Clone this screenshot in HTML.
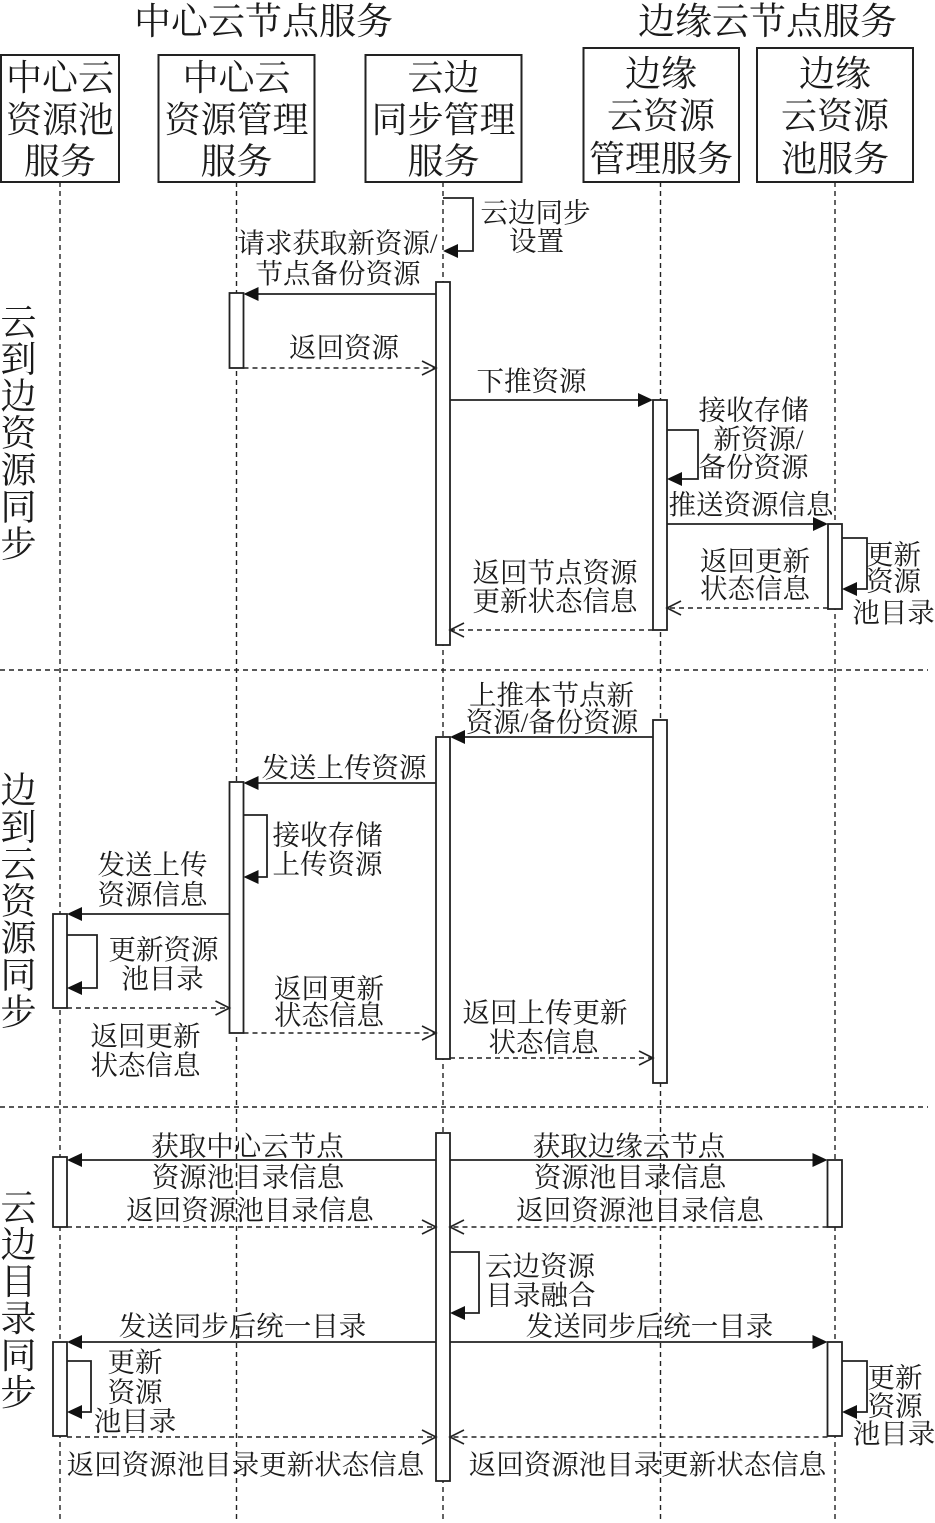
<!DOCTYPE html>
<html>
<head>
<meta charset="utf-8">
<style>
html,body{margin:0;padding:0;background:#fff;}
svg{display:block;}
text{font-family:"Liberation Serif","Noto Serif CJK SC",serif;fill:#1a1a1a;}
.t{font-size:27.5px;text-anchor:middle;}
.b{font-size:36px;text-anchor:middle;}
.h{font-size:37px;text-anchor:middle;}
.v{font-size:36px;text-anchor:middle;}
.ll{stroke:#222;stroke-width:1.4;stroke-dasharray:5 4;fill:none;}
.dv{stroke:#222;stroke-width:1.4;stroke-dasharray:5 4;fill:none;}
.box{fill:#fff;stroke:#222;stroke-width:2;}
.act{fill:#fff;stroke:#222;stroke-width:1.8;}
.sl{stroke:#222;stroke-width:1.8;fill:none;}
.ds{stroke:#222;stroke-width:1.4;stroke-dasharray:5 4;fill:none;}
.ah{fill:#111;stroke:none;}
.oa{stroke:#222;stroke-width:1.6;fill:none;}
</style>
</head>
<body>
<svg width="935" height="1523" viewBox="0 0 935 1523" xmlns="http://www.w3.org/2000/svg">
<rect x="0" y="0" width="935" height="1523" fill="#fff"/>

<!-- titles -->
<text class="h" x="263.5" y="34">中心云节点服务</text>
<text class="h" x="767.5" y="34">边缘云节点服务</text>

<!-- lifelines -->
<line class="ll" x1="60" y1="182" x2="60" y2="1523"/>
<line class="ll" x1="236.5" y1="182" x2="236.5" y2="1523"/>
<line class="ll" x1="443" y1="182" x2="443" y2="1523"/>
<line class="ll" x1="660.5" y1="182" x2="660.5" y2="1523"/>
<line class="ll" x1="835" y1="182" x2="835" y2="1523"/>

<!-- boxes -->
<rect class="box" x="1" y="55" width="118" height="127"/>
<text class="b" x="60" y="90">中心云</text>
<text class="b" x="60" y="132">资源池</text>
<text class="b" x="60" y="173.5">服务</text>

<rect class="box" x="158.5" y="55" width="156" height="127"/>
<text class="b" x="236.5" y="90">中心云</text>
<text class="b" x="236.5" y="132">资源管理</text>
<text class="b" x="236.5" y="173.5">服务</text>

<rect class="box" x="365.5" y="55" width="156" height="127"/>
<text class="b" x="443.5" y="90">云边</text>
<text class="b" x="443.5" y="132">同步管理</text>
<text class="b" x="443.5" y="173.5">服务</text>

<rect class="box" x="583.5" y="48" width="155.5" height="134"/>
<text class="b" x="661" y="86">边缘</text>
<text class="b" x="661" y="128">云资源</text>
<text class="b" x="661" y="171">管理服务</text>

<rect class="box" x="757" y="48" width="156" height="134"/>
<text class="b" x="835" y="86">边缘</text>
<text class="b" x="835" y="128">云资源</text>
<text class="b" x="835" y="171">池服务</text>

<!-- dividers -->
<line class="dv" x1="0" y1="670" x2="928" y2="670"/>
<line class="dv" x1="0" y1="1107" x2="928" y2="1107"/>

<!-- vertical section labels -->
<g>
<text class="v" x="18.5" y="334.5">云</text>
<text class="v" x="18.5" y="371.5">到</text>
<text class="v" x="18.5" y="408.5">边</text>
<text class="v" x="18.5" y="445.5">资</text>
<text class="v" x="18.5" y="482.5">源</text>
<text class="v" x="18.5" y="519.5">同</text>
<text class="v" x="18.5" y="556.5">步</text>

<text class="v" x="18.5" y="802.5">边</text>
<text class="v" x="18.5" y="839.5">到</text>
<text class="v" x="18.5" y="876.5">云</text>
<text class="v" x="18.5" y="913.5">资</text>
<text class="v" x="18.5" y="950.5">源</text>
<text class="v" x="18.5" y="987.5">同</text>
<text class="v" x="18.5" y="1024.5">步</text>

<text class="v" x="18.5" y="1220">云</text>
<text class="v" x="18.5" y="1257">边</text>
<text class="v" x="18.5" y="1294">目</text>
<text class="v" x="18.5" y="1331">录</text>
<text class="v" x="18.5" y="1368">同</text>
<text class="v" x="18.5" y="1405">步</text>
</g>

<!-- ================= Section 1 ================= -->
<!-- self loop on LL3 -->
<path class="sl" d="M443,198 H473 V251 H457"/>
<polygon class="ah" points="443,251 458,244 458,258"/>
<text class="t" x="535.5" y="222">云边同步</text>
<text class="t" x="536.5" y="250.5">设置</text>

<!-- act3 -->
<rect class="act" x="436" y="282" width="14" height="363"/>
<!-- request -->
<line class="sl" x1="436" y1="294" x2="258" y2="294"/>
<polygon class="ah" points="243.5,294 258.5,287 258.5,301"/>
<text class="t" x="337.5" y="252.5">请求获取新资源/</text>
<text class="t" x="338" y="283">节点备份资源</text>
<!-- act2 -->
<rect class="act" x="229.5" y="293" width="14" height="75"/>
<!-- return -->
<line class="ds" x1="243.5" y1="368" x2="435" y2="368"/>
<polyline class="oa" points="422,361 436,368 422,375"/>
<text class="t" x="344" y="357">返回资源</text>

<!-- push down -->
<line class="sl" x1="450" y1="400" x2="639" y2="400"/>
<polygon class="ah" points="653,400 638,393 638,407"/>
<text class="t" x="531.5" y="390.5">下推资源</text>
<!-- act4 -->
<rect class="act" x="653" y="400" width="14" height="230"/>
<!-- self loop act4 -->
<path class="sl" d="M667,430 H698 V479 H681"/>
<polygon class="ah" points="667,479 682,472 682,486"/>
<text class="t" x="753.5" y="419.5">接收存储</text>
<text class="t" x="758.5" y="448.5">新资源/</text>
<text class="t" x="753.5" y="476.5">备份资源</text>
<!-- push info -->
<line class="sl" x1="667" y1="524" x2="813" y2="524"/>
<polygon class="ah" points="828,524 813,517 813,531"/>
<text class="t" x="751" y="514">推送资源信息</text>
<!-- act5 -->
<rect class="act" x="828" y="524" width="14" height="85"/>
<path class="sl" d="M842,538 H867 V589 H856"/>
<polygon class="ah" points="842,589 857,582 857,596"/>
<text class="t" x="893.5" y="564">更新</text>
<text class="t" x="893.5" y="590.5">资源</text>
<text class="t" x="893.5" y="622">池目录</text>
<!-- return from act5 -->
<line class="ds" x1="828" y1="608" x2="668" y2="608"/>
<polyline class="oa" points="681,601 667,608 681,615"/>
<text class="t" x="755" y="570.5">返回更新</text>
<text class="t" x="755" y="598">状态信息</text>
<!-- return to act3 -->
<line class="ds" x1="653" y1="630" x2="451" y2="630"/>
<polyline class="oa" points="464,623 450,630 464,637"/>
<text class="t" x="555" y="582">返回节点资源</text>
<text class="t" x="555" y="610.5">更新状态信息</text>

<!-- ================= Section 2 ================= -->
<rect class="act" x="653" y="720" width="14" height="363"/>
<line class="sl" x1="653" y1="737" x2="464" y2="737"/>
<polygon class="ah" points="450,737 465,730 465,744"/>
<text class="t" x="551.5" y="704.5">上推本节点新</text>
<text class="t" x="552" y="731.5">资源/备份资源</text>

<rect class="act" x="436" y="737" width="14" height="322"/>
<line class="sl" x1="436" y1="783" x2="258" y2="783"/>
<polygon class="ah" points="243.5,783 258.5,776 258.5,790"/>
<text class="t" x="344" y="777">发送上传资源</text>

<rect class="act" x="229.5" y="782" width="14" height="251"/>
<path class="sl" d="M243.5,815 H267 V877 H257"/>
<polygon class="ah" points="243.5,877 258.5,870 258.5,884"/>
<text class="t" x="327.5" y="844.5">接收存储</text>
<text class="t" x="327.5" y="873.5">上传资源</text>

<line class="sl" x1="229.5" y1="914" x2="81" y2="914"/>
<polygon class="ah" points="67,914 82,907 82,921"/>
<text class="t" x="152.5" y="874">发送上传</text>
<text class="t" x="152.5" y="904">资源信息</text>

<rect class="act" x="53" y="914" width="14" height="94"/>
<path class="sl" d="M67,935 H97 V988 H81"/>
<polygon class="ah" points="67,988 82,981 82,995"/>
<text class="t" x="163.5" y="959">更新资源</text>
<text class="t" x="162.5" y="988">池目录</text>

<line class="ds" x1="67" y1="1008" x2="228.5" y2="1008"/>
<polyline class="oa" points="215.5,1001 229.5,1008 215.5,1015"/>
<text class="t" x="145.5" y="1045.5">返回更新</text>
<text class="t" x="145.5" y="1074.5">状态信息</text>

<line class="ds" x1="243.5" y1="1033" x2="435" y2="1033"/>
<polyline class="oa" points="422,1026 436,1033 422,1040"/>
<text class="t" x="329" y="998">返回更新</text>
<text class="t" x="329" y="1024.5">状态信息</text>

<line class="ds" x1="450" y1="1058" x2="652" y2="1058"/>
<polyline class="oa" points="639,1051 653,1058 639,1065"/>
<text class="t" x="545" y="1022">返回上传更新</text>
<text class="t" x="543.5" y="1051.5">状态信息</text>

<!-- ================= Section 3 ================= -->
<rect class="act" x="436" y="1133" width="14" height="348"/>

<line class="sl" x1="436" y1="1160" x2="81" y2="1160"/>
<polygon class="ah" points="67,1160 82,1153 82,1167"/>
<text class="t" x="247.5" y="1155.5">获取中心云节点</text>
<text class="t" x="248" y="1186.5">资源池目录信息</text>

<rect class="act" x="53" y="1157" width="14" height="70"/>

<line class="sl" x1="450" y1="1160" x2="813" y2="1160"/>
<polygon class="ah" points="827.5,1160 812.5,1153 812.5,1167"/>
<text class="t" x="629" y="1155.5">获取边缘云节点</text>
<text class="t" x="630" y="1186.5">资源池目录信息</text>

<rect class="act" x="827.5" y="1160" width="14.5" height="67"/>

<line class="ds" x1="67" y1="1227" x2="435" y2="1227"/>
<polyline class="oa" points="422,1220 436,1227 422,1234"/>
<text class="t" x="250" y="1219.5">返回资源池目录信息</text>

<line class="ds" x1="827.5" y1="1227" x2="451" y2="1227"/>
<polyline class="oa" points="464,1220 450,1227 464,1234"/>
<text class="t" x="640" y="1219.5">返回资源池目录信息</text>

<path class="sl" d="M450,1252 H479 V1313 H464"/>
<polygon class="ah" points="450,1313 465,1306 465,1320"/>
<text class="t" x="540" y="1275.5">云边资源</text>
<text class="t" x="540.5" y="1304.5">目录融合</text>

<line class="sl" x1="436" y1="1342" x2="81" y2="1342"/>
<polygon class="ah" points="67,1342 82,1335 82,1349"/>
<text class="t" x="242.5" y="1335.5">发送同步后统一目录</text>

<line class="sl" x1="450" y1="1342" x2="813" y2="1342"/>
<polygon class="ah" points="827.5,1342 812.5,1335 812.5,1349"/>
<text class="t" x="649.5" y="1335.5">发送同步后统一目录</text>

<rect class="act" x="53" y="1342" width="14" height="94"/>
<rect class="act" x="827.5" y="1342" width="14.5" height="94"/>

<path class="sl" d="M67,1361 H91 V1412 H81"/>
<polygon class="ah" points="67,1412 82,1405 82,1419"/>
<text class="t" x="135" y="1371.5">更新</text>
<text class="t" x="135" y="1401.5">资源</text>
<text class="t" x="135" y="1430.5">池目录</text>

<path class="sl" d="M842,1361 H867 V1412 H856"/>
<polygon class="ah" points="842,1412 857,1405 857,1419"/>
<text class="t" x="895" y="1387">更新</text>
<text class="t" x="895" y="1415.5">资源</text>
<text class="t" x="894" y="1443">池目录</text>

<line class="ds" x1="67" y1="1437" x2="435" y2="1437"/>
<polyline class="oa" points="422,1430 436,1437 422,1444"/>
<text class="t" x="245.5" y="1474">返回资源池目录更新状态信息</text>

<line class="ds" x1="827.5" y1="1437" x2="451" y2="1437"/>
<polyline class="oa" points="464,1430 450,1437 464,1444"/>
<text class="t" x="647.5" y="1474">返回资源池目录更新状态信息</text>
</svg>
</body>
</html>
